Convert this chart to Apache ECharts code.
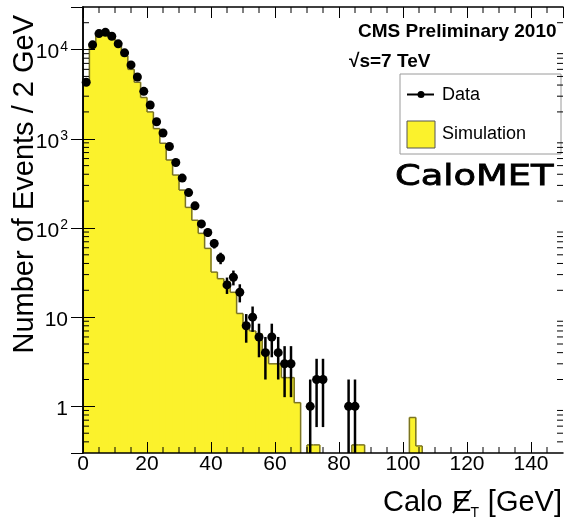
<!DOCTYPE html>
<html>
<head>
<meta charset="utf-8">
<script src="https://cdn.jsdelivr.net/npm/echarts@6/dist/echarts.min.js"></script>
<style>
  html, body { margin: 0; padding: 0; background: #fff; }
  #chart { width: 565px; height: 518px; }
</style>
</head>
<body>
<div id="chart"></div>
<script>
// Calorimeter missing transverse energy, 2 GeV bins from 0 to 150 GeV

// Observed events per bin (bin i covers [2i, 2i+2) GeV)
const dataCounts = [
  4300, 11300, 15100, 15600, 14100, 11600, 9190, 6730, 4930, 3400,   // 0-18
  2390, 1550, 1160, 820, 542, 362, 249, 177, 111, 89,                 // 20-38
  67, 46, 23, 28, 19, 8, 10, 6, 4, 6,                                 // 40-58
  4, 3, 3, 0, 0, 1, 2, 2, 0, 0,                                       // 60-78
  0, 1, 1, 0, 0, 0, 0, 0, 0, 0,                                       // 80-98
  0, 0, 0, 0, 0, 0, 0, 0, 0, 0,                                       // 100-118
  0, 0, 0, 0, 0, 0, 0, 0, 0, 0, 0, 0, 0, 0, 0                         // 120-148
];

// Simulated expectation per bin
const simCounts = [
  4200, 11800, 15300, 16000, 14300, 11000, 8500, 6000, 4300, 2900,
  2000, 1300, 890, 578, 392, 266, 170, 122, 87, 59,
  32, 27, 25, 19, 11, 8.5, 7, 6.5, 4.2, 3.0,
  3.0, 2.1, 2.1, 1.1, 0, 0.37, 0.37, 0, 0, 0,
  0, 0, 0.37, 0.37, 0, 0, 0, 0, 0, 0,
  0, 0.75, 0.36, 0, 0, 0, 0, 0, 0, 0,
  0, 0, 0, 0, 0, 0, 0, 0, 0, 0, 0, 0, 0, 0, 0
];

// Labelled tick values
const xTickLabels = [0, 20, 40, 60, 80, 100, 120, 140];
const yTickLabels = [1, 10, 100, 1000, 10000];

const BIN_WIDTH = 2;
const X_MIN = 0, X_MAX = 150;
const Y_MIN = 0.3, Y_MAX = 30000;
const FONT = '"Liberation Sans", Arial, Helvetica, sans-serif';
const SIM_FILL = '#fbf22c';
const SIM_LINE = '#7a7424';

// Histogram items: [lowEdge, highEdge, value, previousValue, nextValue]
const simItems = [];
simCounts.forEach((v, i) => {
  if (v > 0) {
    simItems.push([i * BIN_WIDTH, (i + 1) * BIN_WIDTH, v,
      i > 0 ? simCounts[i - 1] : 0,
      i < simCounts.length - 1 ? simCounts[i + 1] : 0]);
  }
});

// Data markers and Poisson (sqrt N) error bars
const pointItems = [];
const errorItems = [];
dataCounts.forEach((n, i) => {
  if (n > 0) {
    const xc = i * BIN_WIDTH + BIN_WIDTH / 2;
    const err = Math.sqrt(n);
    pointItems.push([xc, n]);
    errorItems.push([xc, Math.max(n - err, Y_MIN), n + err]);
  }
});

// Minor tick positions (ROOT style: 5 GeV steps; 2..9 per decade)
const xMinorTicks = [];
for (let x = 5; x < X_MAX; x += 5) if (x % 20 !== 0) xMinorTicks.push([x, 1]);
const yMinorTicks = [];
for (let e = -1; e <= 4; e++) {
  for (let m = 2; m <= 9; m++) {
    const v = m * Math.pow(10, e);
    if (v > Y_MIN * 1.001 && v < Y_MAX * 0.999) yMinorTicks.push([1, v]);
  }
}

function renderSim(params, api) {
  const cs = params.coordSys;
  const yb = cs.y + cs.height;
  const x0 = api.value(0), x1 = api.value(1), v = api.value(2);
  const vp = api.value(3), vn = api.value(4);
  const pL = api.coord([x0, v]);
  const pR = api.coord([x1, v]);
  const yPrev = vp > 0 ? api.coord([x0, vp])[1] : yb;
  const line = { stroke: SIM_LINE, lineWidth: 1.5 };
  const children = [
    // fill overlaps its neighbours by half a pixel so no seams show
    { type: 'rect', z2: 0, shape: { x: pL[0] - 0.5, y: pL[1], width: pR[0] - pL[0] + 1, height: yb - pL[1] },
      style: { fill: SIM_FILL } },
    { type: 'line', z2: 10, shape: { x1: pL[0], y1: pL[1], x2: pR[0], y2: pR[1] }, style: line },
    { type: 'line', z2: 10, shape: { x1: pL[0], y1: yPrev, x2: pL[0], y2: pL[1] }, style: line }
  ];
  if (!(vn > 0)) {
    children.push({ type: 'line', z2: 10, shape: { x1: pR[0], y1: pR[1], x2: pR[0], y2: yb }, style: line });
  }
  return { type: 'group', children };
}

function renderErrors(params, api) {
  const lo = api.coord([api.value(0), api.value(1)]);
  const hi = api.coord([api.value(0), api.value(2)]);
  return { type: 'line', shape: { x1: lo[0], y1: lo[1], x2: hi[0], y2: hi[1] },
    style: { stroke: '#000', lineWidth: 2.5 } };
}

function renderXMinor(params, api) {
  const cs = params.coordSys;
  const px = api.coord([api.value(0), Y_MIN])[0];
  const st = { stroke: '#000', lineWidth: 1 };
  return { type: 'group', children: [
    { type: 'line', shape: { x1: px, y1: cs.y + cs.height, x2: px, y2: cs.y + cs.height - 6 }, style: st },
    { type: 'line', shape: { x1: px, y1: cs.y, x2: px, y2: cs.y + 6 }, style: st }
  ] };
}

function renderYMinor(params, api) {
  const cs = params.coordSys;
  const py = api.coord([X_MIN, api.value(1)])[1];
  const st = { stroke: '#000', lineWidth: 1 };
  return { type: 'group', children: [
    { type: 'line', shape: { x1: cs.x, y1: py, x2: cs.x + 6, y2: py }, style: st },
    { type: 'line', shape: { x1: cs.x + cs.width, y1: py, x2: cs.x + cs.width - 6, y2: py }, style: st }
  ] };
}

function yLabel(v) {
  const idx = yTickLabels.findIndex(t => Math.abs(t - v) / t < 1e-6);
  if (idx < 0) return '';
  const e = Math.round(Math.log10(yTickLabels[idx]));
  if (e === 0) return '{b|1}';
  if (e === 1) return '{b|10}';
  return '{b|10}{s|' + e + '}';
}

const frameLine = { show: true, lineStyle: { color: '#000', width: 1.5 } };

const chart = echarts.init(document.getElementById('chart'), null, { renderer: 'canvas' });
chart.setOption({
  animation: false,
  backgroundColor: '#fff',
  grid: { left: 83, right: 2, top: 7, bottom: 65, containLabel: false },
  xAxis: [
    {
      type: 'value', min: X_MIN, max: X_MAX, interval: 20, z: 5,
      axisLine: frameLine,
      axisTick: { show: true, inside: true, length: 11, lineStyle: { color: '#000', width: 1 } },
      splitLine: { show: false },
      axisLabel: {
        show: true, margin: 1, color: '#000', fontSize: 21, fontFamily: FONT,
        showMaxLabel: false,
        formatter: v => (xTickLabels.indexOf(v) >= 0 ? String(v) : '')
      }
    },
    {
      type: 'value', position: 'top', min: X_MIN, max: X_MAX, interval: 20, z: 5,
      axisLine: frameLine,
      axisTick: { show: true, inside: true, length: 11, lineStyle: { color: '#000', width: 1 } },
      splitLine: { show: false },
      axisLabel: { show: false }
    }
  ],
  yAxis: [
    {
      type: 'log', logBase: 10, min: Y_MIN, max: Y_MAX, z: 5,
      axisLine: frameLine,
      axisTick: { show: true, inside: true, length: 12, lineStyle: { color: '#000', width: 1 } },
      splitLine: { show: false },
      axisLabel: {
        show: true, margin: 15, color: '#000', showMinLabel: false, showMaxLabel: false,
        formatter: yLabel,
        rich: {
          b: { fontSize: 21, fontFamily: FONT, color: '#000', lineHeight: 21, padding: [6, 0, 0, 0] },
          s: { fontSize: 14, fontFamily: FONT, color: '#000', lineHeight: 14, padding: [0, 0, 5, 1] }
        }
      }
    },
    {
      type: 'log', logBase: 10, position: 'right', min: Y_MIN, max: Y_MAX, z: 5,
      axisLine: frameLine,
      axisTick: { show: true, inside: true, length: 12, lineStyle: { color: '#000', width: 1 } },
      splitLine: { show: false },
      axisLabel: { show: false }
    }
  ],
  series: [
    {
      name: 'Simulation', type: 'custom', renderItem: renderSim, data: simItems,
      encode: { x: [0, 1], y: 2 }, clip: true, z: 2, silent: true
    },
    {
      name: 'Data errors', type: 'custom', renderItem: renderErrors, data: errorItems,
      encode: { x: 0, y: [1, 2] }, clip: true, z: 3, silent: true
    },
    {
      name: 'Data', type: 'scatter', data: pointItems, symbol: 'circle', symbolSize: 9,
      itemStyle: { color: '#000', opacity: 1 }, z: 4, silent: true
    },
    {
      type: 'custom', renderItem: renderXMinor, data: xMinorTicks,
      encode: { x: 0, y: 1 }, z: 6, silent: true
    },
    {
      type: 'custom', renderItem: renderYMinor, data: yMinorTicks,
      encode: { x: 0, y: 1 }, z: 6, silent: true
    }
  ],
  graphic: [
    { type: 'text', x: 358, y: 32, style: { text: 'CMS Preliminary 2010', font: 'bold 19px ' + FONT, fill: '#000', verticalAlign: 'middle' } },
    { type: 'text', x: 349, y: 62, style: { text: '√s=7 TeV', font: 'bold 19px ' + FONT, fill: '#000', verticalAlign: 'middle' } },
    // legend
    { type: 'rect', shape: { x: 400, y: 74, width: 161, height: 80 }, style: { fill: '#fff', stroke: '#9a9a9a', lineWidth: 1 } },
    { type: 'line', shape: { x1: 407, y1: 94.5, x2: 434, y2: 94.5 }, style: { stroke: '#000', lineWidth: 2 } },
    { type: 'circle', shape: { cx: 421, cy: 94.5, r: 3.5 }, style: { fill: '#000' } },
    { type: 'text', x: 442, y: 95, style: { text: 'Data', font: '18px ' + FONT, fill: '#000', verticalAlign: 'middle' } },
    { type: 'rect', shape: { x: 407, y: 121, width: 28, height: 27 }, style: { fill: SIM_FILL, stroke: '#555', lineWidth: 1 } },
    { type: 'text', x: 442, y: 134, style: { text: 'Simulation', font: '18px ' + FONT, fill: '#000', verticalAlign: 'middle' } },
    // tag
    { type: 'text', x: 395, y: 177, scaleX: 1.27, style: { text: 'CaloMET', font: '29px "Comic Sans MS", "DejaVu Sans", sans-serif', fill: '#000', verticalAlign: 'middle', stroke: '#000', lineWidth: 0.8 } },
    // y-axis title
    { type: 'text', x: 25, y: 15, rotation: Math.PI / 2, style: { text: 'Number of Events / 2 GeV', font: '29px ' + FONT, fill: '#000', align: 'right', verticalAlign: 'middle' } },
    // x-axis title: Calo E-slash_T [GeV]
    { type: 'text', x: 383, y: 503, style: { text: 'Calo', font: '29px ' + FONT, fill: '#000', verticalAlign: 'middle' } },
    { type: 'text', x: 452, y: 503, style: { text: 'E', font: '29px ' + FONT, fill: '#000', verticalAlign: 'middle' } },
    { type: 'line', shape: { x1: 453, y1: 513, x2: 471, y2: 490 }, style: { stroke: '#000', lineWidth: 2 } },
    { type: 'text', x: 470.5, y: 513, style: { text: 'T', font: '14px ' + FONT, fill: '#000', verticalAlign: 'middle' } },
    { type: 'text', x: 562, y: 503, style: { text: '[GeV]', font: '29px ' + FONT, fill: '#000', align: 'right', verticalAlign: 'middle' } }
  ]
});
</script>
</body>
</html>
